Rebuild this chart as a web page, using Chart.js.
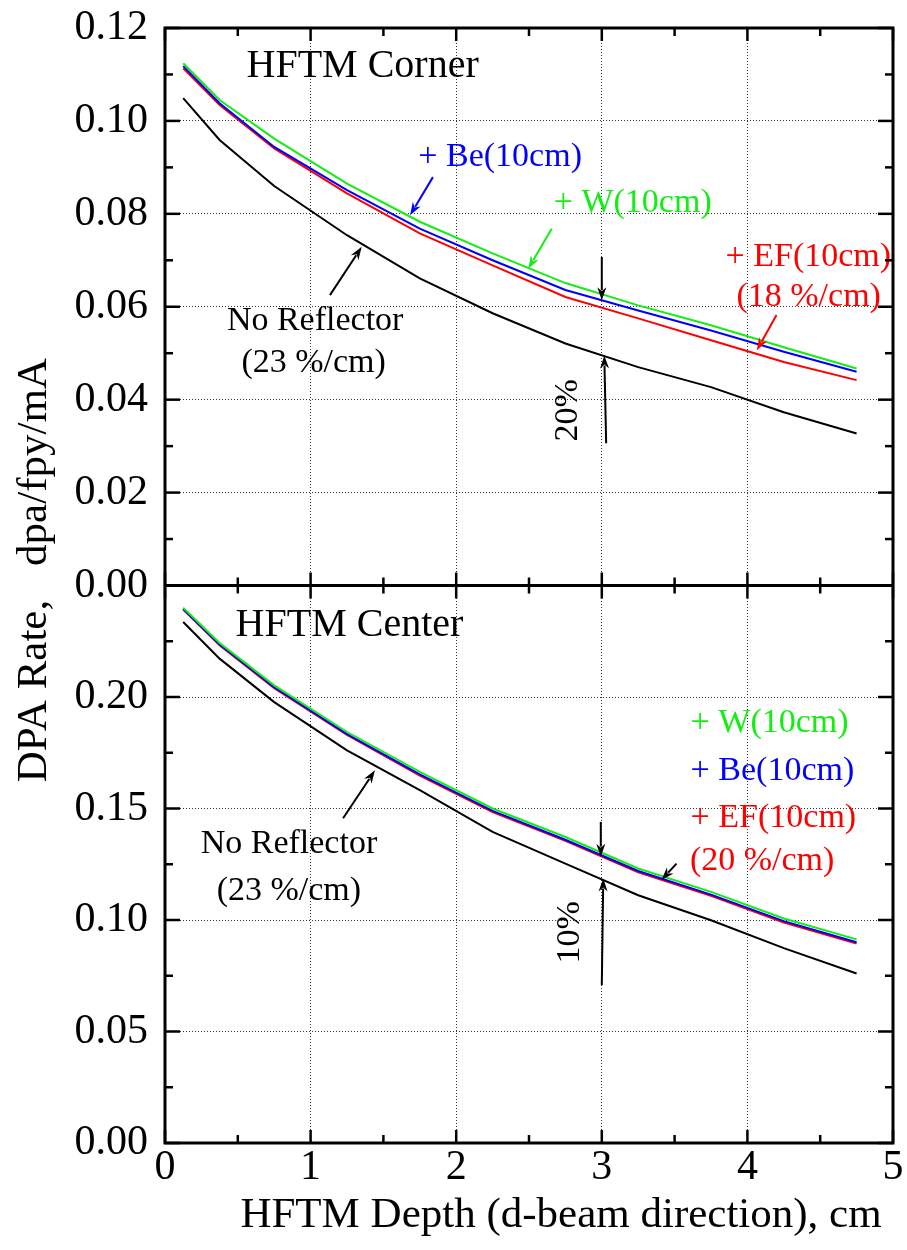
<!DOCTYPE html>
<html>
<head>
<meta charset="utf-8">
<script src="https://cdn.jsdelivr.net/npm/chart.js@4.4.1/dist/chart.umd.min.js"></script>
<style>
  html, body { margin: 0; padding: 0; background: #ffffff; }
  #wrap { width: 907px; height: 1250px; position: relative; }
  canvas { display: block; }
</style>
</head>
<body>
<div id="wrap"><canvas id="dpa" width="907" height="1250"></canvas></div>
<script>
// Depth positions (cm, bin centres along the d-beam direction)
const depthCm = [0.125, 0.375, 0.75, 1.25, 1.75, 2.25, 2.75, 3.25, 3.75, 4.25, 4.75];

// HFTM corner, DPA rate (dpa/fpy/mA)
const cornerNoReflector = [0.1049, 0.0959, 0.0860, 0.0754, 0.0661, 0.0586, 0.0521, 0.0470, 0.0427, 0.0373, 0.0327];
const cornerBe = [0.1118, 0.1038, 0.0944, 0.0851, 0.0768, 0.0700, 0.0636, 0.0592, 0.0549, 0.0503, 0.0460];
const cornerW  = [0.1124, 0.1045, 0.0962, 0.0865, 0.0783, 0.0715, 0.0651, 0.0603, 0.0560, 0.0513, 0.0467];
const cornerEF = [0.1113, 0.1034, 0.0941, 0.0844, 0.0758, 0.0689, 0.0621, 0.0575, 0.0528, 0.0481, 0.0442];

// HFTM centre, DPA rate (dpa/fpy/mA)
const centerNoReflector = [0.2336, 0.2172, 0.1977, 0.1761, 0.1582, 0.1395, 0.1253, 0.1111, 0.0999, 0.0874, 0.0760];
const centerBe = [0.2395, 0.2235, 0.2044, 0.1834, 0.1653, 0.1489, 0.1360, 0.1220, 0.1114, 0.0995, 0.0900];
const centerW  = [0.2400, 0.2242, 0.2052, 0.1843, 0.1664, 0.1500, 0.1372, 0.1231, 0.1126, 0.1007, 0.0913];
const centerEF = [0.2392, 0.2232, 0.2040, 0.1830, 0.1648, 0.1484, 0.1355, 0.1214, 0.1108, 0.0989, 0.0894];

// Tick values
const depthTicks = [0, 1, 2, 3, 4, 5];
const cornerTicks = [0, 0.02, 0.04, 0.06, 0.08, 0.10, 0.12];
const centerTicks = [0, 0.05, 0.10, 0.15, 0.20, 0.25];

const SERIF = '"Liberation Serif", "Times New Roman", Times, serif';
const GREEN = '#12ee12';
const BLUE = '#0000ff';
const RED = '#ff0000';
const BLACK = '#000000';

const pts = (ys) => depthCm.map((x, i) => ({ x: x, y: ys[i] }));

function series(label, values, color, axis) {
  return {
    label: label,
    data: pts(values),
    yAxisID: axis,
    borderColor: color,
    backgroundColor: color,
    borderWidth: 2,
    pointRadius: 0,
    tension: 0,
    fill: false
  };
}

// Text labels placed in data coordinates of each panel
const panelTexts = [
  { axis: 'yTop', x: 0.56, y: 0.1118, text: 'HFTM Corner', color: BLACK, size: 40 },
  { axis: 'yTop', x: 1.74, y: 0.0923, text: '+ Be(10cm)', color: BLUE, size: 34 },
  { axis: 'yTop', x: 2.67, y: 0.0824, text: '+ W(10cm)', color: GREEN, size: 34 },
  { axis: 'yTop', x: 3.85, y: 0.0707, text: '+ EF(10cm)', color: RED, size: 34 },
  { axis: 'yTop', x: 3.925, y: 0.0621, text: '(18 %/cm)', color: RED, size: 34 },
  { axis: 'yTop', x: 0.425, y: 0.0569, text: 'No Reflector', color: BLACK, size: 34 },
  { axis: 'yTop', x: 0.525, y: 0.0479, text: '(23 %/cm)', color: BLACK, size: 34 },
  { axis: 'yTop', x: 2.768, y: 0.0377, text: '20%', color: BLACK, size: 34, rotate: true },
  { axis: 'yBot', x: 0.485, y: 0.2321, text: 'HFTM Center', color: BLACK, size: 40 },
  { axis: 'yBot', x: 3.61, y: 0.1884, text: '+ W(10cm)', color: GREEN, size: 34 },
  { axis: 'yBot', x: 3.61, y: 0.1667, text: '+ Be(10cm)', color: BLUE, size: 34 },
  { axis: 'yBot', x: 3.61, y: 0.1458, text: '+ EF(10cm)', color: RED, size: 34 },
  { axis: 'yBot', x: 3.605, y: 0.1263, text: '(20 %/cm)', color: RED, size: 34 },
  { axis: 'yBot', x: 0.245, y: 0.1340, text: 'No Reflector', color: BLACK, size: 34 },
  { axis: 'yBot', x: 0.355, y: 0.1129, text: '(23 %/cm)', color: BLACK, size: 34 },
  { axis: 'yBot', x: 2.782, y: 0.0945, text: '10%', color: BLACK, size: 34, rotate: true }
];

// Pointer arrows: tail (x1, y1) to head (x2, y2) in data coordinates
const pointers = [
  { axis: 'yTop', x1: 1.840, y1: 0.0879, x2: 1.683, y2: 0.0797, color: BLUE },
  { axis: 'yTop', x1: 2.656, y1: 0.0768, x2: 2.495, y2: 0.0682, color: GREEN },
  { axis: 'yTop', x1: 4.200, y1: 0.0582, x2: 4.064, y2: 0.0506, color: RED },
  { axis: 'yTop', x1: 1.133, y1: 0.0625, x2: 1.351, y2: 0.0729, color: BLACK },
  { axis: 'yTop', x1: 3.000, y1: 0.0707, x2: 3.000, y2: 0.0614, color: BLACK },
  { axis: 'yTop', x1: 3.030, y1: 0.0306, x2: 3.017, y2: 0.0495, color: BLACK },
  { axis: 'yBot', x1: 1.223, y1: 0.1456, x2: 1.442, y2: 0.1671, color: BLACK },
  { axis: 'yBot', x1: 2.993, y1: 0.1440, x2: 2.993, y2: 0.1284, color: BLACK },
  { axis: 'yBot', x1: 3.000, y1: 0.0708, x2: 3.010, y2: 0.1186, color: BLACK },
  { axis: 'yBot', x1: 3.513, y1: 0.1253, x2: 3.410, y2: 0.1179, color: BLACK }
];

function drawArrow(ctx, x1, y1, x2, y2, color) {
  const ang = Math.atan2(y2 - y1, x2 - x1);
  const hl = 13, hw = 4.5;
  const bx = x2 - hl * Math.cos(ang), by = y2 - hl * Math.sin(ang);
  ctx.strokeStyle = color;
  ctx.fillStyle = color;
  ctx.lineWidth = 2;
  ctx.beginPath();
  ctx.moveTo(x1, y1);
  ctx.lineTo(bx + 3 * Math.cos(ang), by + 3 * Math.sin(ang));
  ctx.stroke();
  ctx.beginPath();
  ctx.moveTo(x2, y2);
  ctx.lineTo(bx - hw * Math.sin(ang), by + hw * Math.cos(ang));
  ctx.lineTo(bx + 4 * Math.cos(ang), by + 4 * Math.sin(ang));
  ctx.lineTo(bx + hw * Math.sin(ang), by - hw * Math.cos(ang));
  ctx.closePath();
  ctx.fill();
}

// Frame, inward tick marks, annotations and axis titles
const decorations = {
  id: 'decorations',
  afterDatasetsDraw(chart) {
    const { ctx, chartArea: a, scales } = chart;
    const xs = scales.x;
    ctx.save();

    // annotations
    for (const t of panelTexts) {
      const px = xs.getPixelForValue(t.x);
      const py = scales[t.axis].getPixelForValue(t.y);
      ctx.fillStyle = t.color;
      ctx.font = t.size + 'px ' + SERIF;
      if (t.rotate) {
        ctx.save();
        ctx.translate(px, py);
        ctx.rotate(-Math.PI / 2);
        ctx.textAlign = 'center';
        ctx.textBaseline = 'middle';
        ctx.fillText(t.text, 0, 0);
        ctx.restore();
      } else {
        ctx.textAlign = 'left';
        ctx.textBaseline = 'middle';
        ctx.fillText(t.text, px, py);
      }
    }
    for (const p of pointers) {
      const ys = scales[p.axis];
      drawArrow(ctx, xs.getPixelForValue(p.x1), ys.getPixelForValue(p.y1),
        xs.getPixelForValue(p.x2), ys.getPixelForValue(p.y2), p.color);
    }

    // inward ticks on all four sides of both panels
    ctx.strokeStyle = BLACK;
    ctx.lineWidth = 2.5;
    const seg = (x1, y1, x2, y2) => { ctx.beginPath(); ctx.moveTo(x1, y1); ctx.lineTo(x2, y2); ctx.stroke(); };
    const panels = [
      { ys: scales.yTop, max: 0.12, minor: 0.01 },
      { ys: scales.yBot, max: 0.25, minor: 0.025 }
    ];
    for (const p of panels) {
      for (let i = 0; i <= 10; i++) {
        const px = xs.getPixelForValue(i * 0.5);
        const len = i % 2 === 0 ? 13 : 8;
        seg(px, p.ys.top, px, p.ys.top + len);
        seg(px, p.ys.bottom, px, p.ys.bottom - len);
      }
      const n = Math.round(p.max / p.minor);
      for (let i = 0; i <= n; i++) {
        const py = p.ys.getPixelForValue(i * p.minor);
        const len = i % 2 === 0 ? 15 : 8;
        seg(a.left, py, a.left + len, py);
        seg(a.right, py, a.right - len, py);
      }
    }

    // frame and panel divider
    ctx.lineWidth = 3;
    ctx.strokeRect(a.left, a.top, a.right - a.left, a.bottom - a.top);
    seg(a.left, scales.yTop.bottom, a.right, scales.yTop.bottom);

    // axis titles
    ctx.fillStyle = BLACK;
    ctx.font = '43px ' + SERIF;
    ctx.textAlign = 'center';
    ctx.textBaseline = 'middle';
    ctx.fillText('HFTM Depth (d-beam direction), cm', 561, 1216);

    ctx.save();
    ctx.translate(46, 0);
    ctx.rotate(-Math.PI / 2);
    ctx.textBaseline = 'alphabetic';
    ctx.textAlign = 'center';
    ctx.fillText('DPA Rate,', -691, 0);
    ctx.fillText('dpa/fpy/mA', -462, 0);
    ctx.restore();

    ctx.restore();
  }
};

const gridLine = { color: '#333333', lineWidth: 1, drawTicks: false };
const tickFont = { family: SERIF, size: 42, lineHeight: 1 };
const noEdgePadding = (s) => { s.paddingTop = 0; s.paddingBottom = 0; };

new Chart(document.getElementById('dpa'), {
  type: 'line',
  data: {
    datasets: [
      series('+ W(10cm), corner', cornerW, GREEN, 'yTop'),
      series('+ Be(10cm), corner', cornerBe, BLUE, 'yTop'),
      series('+ EF(10cm), corner', cornerEF, RED, 'yTop'),
      series('No Reflector, corner', cornerNoReflector, BLACK, 'yTop'),
      series('+ W(10cm), center', centerW, GREEN, 'yBot'),
      series('+ Be(10cm), center', centerBe, BLUE, 'yBot'),
      series('+ EF(10cm), center', centerEF, RED, 'yBot'),
      series('No Reflector, center', centerNoReflector, BLACK, 'yBot')
    ]
  },
  options: {
    responsive: false,
    animation: false,
    devicePixelRatio: 1,
    layout: { padding: { top: 28, right: 14, left: 0, bottom: 0 } },
    plugins: { legend: { display: false }, tooltip: { enabled: false } },
    scales: {
      x: {
        type: 'linear',
        position: 'bottom',
        min: 0,
        max: 5,
        afterBuildTicks: (s) => { s.ticks = depthTicks.map(v => ({ value: v })); },
        afterFit: (s) => { s.height = 107; s.paddingLeft = 0; s.paddingRight = 0; },
        grid: gridLine,
        border: { display: false, dash: [1, 2] },
        ticks: { color: BLACK, font: tickFont, padding: 4, maxRotation: 0, autoSkip: false }
      },
      yTop: {
        type: 'linear',
        position: 'left',
        stack: 'panels',
        stackWeight: 1,
        weight: 2,
        min: 0,
        max: 0.12,
        afterBuildTicks: (s) => { s.ticks = cornerTicks.map(v => ({ value: v })); },
        afterFit: (s) => { s.width = 165; noEdgePadding(s); },
        grid: gridLine,
        border: { display: false, dash: [1, 2] },
        ticks: { color: BLACK, font: tickFont, padding: 17, autoSkip: false,
          callback: (v) => Number(v).toFixed(2) }
      },
      yBot: {
        type: 'linear',
        position: 'left',
        stack: 'panels',
        stackWeight: 1,
        weight: 1,
        min: 0,
        max: 0.25,
        afterBuildTicks: (s) => { s.ticks = centerTicks.map(v => ({ value: v })); },
        afterFit: (s) => { s.width = 165; noEdgePadding(s); },
        grid: gridLine,
        border: { display: false, dash: [1, 2] },
        ticks: { color: BLACK, font: tickFont, padding: 17, autoSkip: false,
          callback: (v) => (Math.abs(v - 0.25) < 1e-9 ? '' : Number(v).toFixed(2)) }
      }
    }
  },
  plugins: [decorations]
});
</script>
</body>
</html>
